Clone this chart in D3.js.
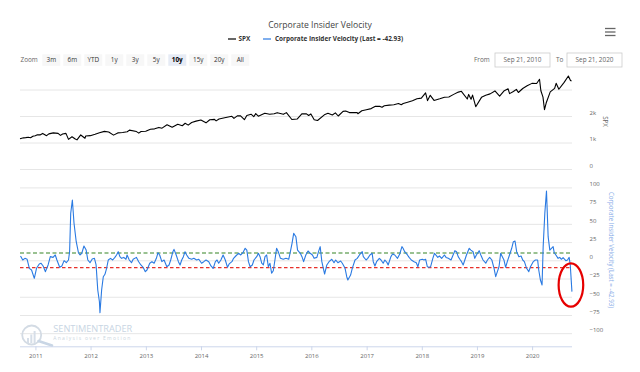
<!DOCTYPE html>
<html><head><meta charset="utf-8">
<script src="https://cdn.jsdelivr.net/npm/d3@7"></script>
<style>html,body{margin:0;padding:0;background:#fff;} svg{display:block;font-family:"Open Sans",sans-serif;}</style>
</head><body><svg id="c" width="640" height="372"></svg>
<script>
const chartTitle = "Corporate Insider Velocity";
const legendLabels = ["SPX", "Corporate Insider Velocity (Last = -42.93)"];
const zoomButtons = ["3m","6m","YTD","1y","3y","5y","10y","15y","20y","All"];
const selectedZoom = "10y";
const rangeFrom = "Sep 21, 2010", rangeTo = "Sep 21, 2020";
const xDomain = ["2010-09-21", "2020-09-21"];
const xTickYears = [2011,2012,2013,2014,2015,2016,2017,2018,2019,2020];
const spxTicks = [0, 1000, 2000, 3000];
const spxTickLabels = ["0", "1k", "2k", ""];
const velTicks = [100, 75, 50, 25, 0, -25, -50, -75, -100];
const upperBand = 10, lowerBand = -10;
const spxTitle = "SPX";
const velTitle = "Corporate Insider Velocity (Last = -42.93)";

const spxDates = ["2010-09-21","2010-10-15","2010-10-29","2010-11-15","2010-11-30","2010-12-15","2010-12-31",
"2011-01-14","2011-01-31","2011-02-18","2011-03-16","2011-03-31","2011-04-29","2011-05-31","2011-06-16","2011-06-30",
"2011-07-22","2011-08-08","2011-08-31","2011-09-22","2011-10-03","2011-10-28","2011-11-25","2011-11-30","2011-12-30",
"2012-01-31","2012-02-29","2012-04-02","2012-04-30","2012-06-01","2012-06-29","2012-07-31","2012-08-31","2012-09-14",
"2012-10-31","2012-11-15","2012-11-30","2012-12-31","2013-01-31","2013-02-28","2013-03-28","2013-04-18","2013-05-21",
"2013-06-24","2013-07-31","2013-08-30","2013-09-18","2013-10-08","2013-10-31","2013-11-29","2013-12-31","2014-02-03",
"2014-02-28","2014-03-31","2014-04-11","2014-04-30","2014-05-30","2014-06-30","2014-07-24","2014-08-07","2014-08-29",
"2014-09-18","2014-10-15","2014-10-31","2014-11-28","2014-12-16","2014-12-29","2015-01-15","2015-02-27","2015-03-31",
"2015-04-30","2015-05-20","2015-06-30","2015-07-20","2015-08-25","2015-09-29","2015-10-30","2015-11-30","2015-12-14",
"2015-12-29","2016-01-20","2016-02-11","2016-03-31","2016-04-20","2016-05-19","2016-06-08","2016-06-27","2016-07-29",
"2016-08-15","2016-09-09","2016-10-31","2016-11-04","2016-11-30","2016-12-30","2017-01-31","2017-02-28","2017-03-31",
"2017-04-13","2017-04-28","2017-05-31","2017-06-30","2017-07-31","2017-08-18","2017-08-31","2017-09-29","2017-10-31",
"2017-11-30","2017-12-29","2018-01-26","2018-02-08","2018-02-26","2018-03-23","2018-04-30","2018-05-31","2018-06-29",
"2018-07-31","2018-08-31","2018-09-20","2018-10-29","2018-11-07","2018-11-23","2018-12-03","2018-12-24","2019-01-31",
"2019-02-28","2019-03-29","2019-04-30","2019-05-31","2019-06-28","2019-07-26","2019-08-05","2019-08-30","2019-09-19",
"2019-10-02","2019-10-31","2019-11-29","2019-12-31","2020-01-31","2020-02-19","2020-02-28","2020-03-13","2020-03-23",
"2020-04-03","2020-04-30","2020-05-29","2020-06-08","2020-06-26","2020-07-31","2020-08-28","2020-09-04","2020-09-11","2020-09-18"];
const spxValues = [1140,1176,1183,1198,1180,1235,1258,
1293,1286,1343,1257,1326,1364,1345,1268,1321,
1345,1119,1219,1130,1099,1285,1159,1247,1258,
1312,1366,1419,1398,1278,1362,1379,1407,1466,
1412,1353,1416,1426,1498,1515,1569,1541,1669,
1573,1686,1633,1725,1656,1757,1806,1848,1742,
1859,1872,1815,1884,1924,1960,1988,1910,2003,
2011,1862,2018,2068,1973,2091,1992,2105,2068,
2086,2126,2063,2128,1867,1884,2079,2080,2021,
2078,1859,1829,2060,2102,2040,2119,2000,2174,
2190,2128,2126,2085,2199,2239,2279,2364,2363,
2329,2384,2412,2423,2470,2426,2472,2519,2575,
2648,2674,2873,2581,2780,2588,2648,2705,2718,
2816,2902,2931,2641,2814,2633,2790,2351,2704,
2784,2834,2946,2752,2942,3026,2844,2926,3006,
2888,3038,3141,3231,3226,3386,2954,2711,2237,
2489,2912,3044,3232,3009,3271,3508,3427,3341,3319];

const velYears = [2010.73,2010.77,2010.81,2010.85,2010.89,2010.93,2010.98,2011.02,2011.07,2011.10,2011.14,2011.18,2011.23,2011.27,2011.32,2011.36,2011.39,
2011.44,2011.48,2011.52,2011.56,2011.60,2011.62,2011.64,2011.67,2011.70,2011.74,2011.78,2011.81,2011.84,2011.88,2011.92,2011.95,2011.99,
2012.03,2012.07,2012.10,2012.13,2012.16,2012.17,2012.20,2012.23,2012.26,2012.29,2012.32,2012.36,2012.40,2012.44,2012.47,2012.50,2012.53,2012.56,2012.60,2012.64,2012.66,2012.70,2012.74,2012.77,
2012.83,2012.87,2012.91,2012.95,2012.99,2013.02,2013.07,2013.11,2013.15,2013.19,2013.22,2013.25,2013.29,2013.33,2013.38,2013.42,2013.45,2013.49,2013.51,2013.55,2013.59,2013.62,2013.65,2013.68,2013.71,2013.74,2013.78,2013.83,2013.87,2013.92,2013.96,2014.01,2014.05,2014.09,
2014.14,2014.18,2014.22,2014.26,2014.29,2014.32,2014.36,2014.40,2014.44,2014.48,2014.51,2014.56,2014.59,2014.63,2014.68,2014.72,2014.76,2014.80,2014.83,2014.86,2014.89,2014.93,2014.96,2015.01,2015.04,2015.07,2015.10,2015.13,2015.16,2015.19,2015.22,2015.25,2015.28,2015.31,2015.34,2015.37,2015.40,2015.44,2015.49,
2015.54,2015.59,2015.62,2015.65,2015.68,2015.72,2015.75,2015.80,2015.83,2015.86,2015.90,2015.94,2015.98,2016.02,2016.05,2016.10,2016.13,2016.16,2016.19,2016.21,2016.24,2016.28,2016.32,2016.37,2016.41,2016.44,2016.48,2016.53,2016.56,2016.61,2016.64,2016.66,2016.71,2016.74,2016.79,
2016.83,2016.87,2016.92,2016.94,2016.99,2017.02,2017.06,2017.10,2017.12,2017.15,2017.18,2017.23,2017.26,2017.30,2017.33,2017.37,2017.39,2017.44,2017.47,2017.51,2017.56,2017.60,2017.64,2017.66,2017.69,2017.74,2017.77,2017.81,2017.86,2017.90,2017.93,2017.96,2018.01,2018.04,2018.07,2018.10,2018.13,2018.16,2018.20,2018.23,
2018.29,2018.32,2018.36,2018.41,2018.44,2018.48,2018.53,2018.56,2018.60,2018.63,2018.66,2018.69,2018.72,2018.75,2018.78,2018.81,2018.86,2018.89,2018.93,2018.96,2018.99,2019.04,2019.07,2019.11,2019.16,2019.19,2019.23,2019.27,2019.31,2019.34,2019.37,2019.40,2019.43,2019.46,2019.49,2019.52,2019.55,
2019.59,2019.63,2019.66,2019.69,2019.72,2019.76,2019.80,2019.83,2019.86,2019.90,2019.94,2019.97,2020.02,2020.06,2020.10,2020.12,2020.15,2020.18,2020.20,2020.23,2020.26,2020.29,2020.32,2020.35,2020.38,2020.40,2020.43,2020.47,2020.50,2020.53,2020.56,2020.61,2020.64,2020.67,2020.69,2020.72];
const velValues = [5.9,0.4,2.7,1.4,-11,-13.3,-24.7,-11,-5,-4,-7.8,-15.6,-6.4,5,4,7.3,0.4,
-9.6,-7.8,-0.5,-3.3,0.4,11.8,64.5,82.7,50.8,25.5,10.4,7.3,9.6,19.6,14,0.4,-3.3,
1.8,2.7,-6.4,-40.8,-56.8,-72,-40.8,-22.5,-19.2,-11,0.4,2.7,0.4,4,7.3,11.8,5,2.7,4,1.4,7.3,0.4,-3.3,1.4,
4,-1.9,-6.4,-9.6,-15.6,-13.3,-4,-1.9,-4,2.7,10.4,7.3,-1.9,0.4,-8.8,-6.4,0.4,11.8,15,7.3,-1.9,-6.4,0.4,5,11.8,7.3,2.7,1.4,2.7,0.4,1.4,-4,-1.9,0.4,
-1.9,-7.8,-11,-1.9,0.4,-4,0.4,7.3,0.4,-9.6,-5,-1.9,2.7,5.9,9.6,7.3,10.4,16.5,14,-1.9,-8.8,-6.4,0.4,5,9.6,5,-4,-6.4,5,7.3,-8.8,-4,-17.8,-14.3,0.4,16.5,11.8,2.7,1.4,
2.7,1.4,11.8,23.3,37,32.4,14,9.6,5,-1.9,7.3,12.8,9.6,7.3,2.7,4,11.8,18.7,-1.9,-8.8,-18.8,-6.4,-1.9,1.4,-3.3,0.4,-3.3,-1,-4,-11,-22.5,-27,-20.2,-11,0.4,
2.7,7.3,11.8,5,0.4,2.7,7.3,9.6,-1.9,-7.8,-1.9,2.7,0.4,-4,0.4,-3.3,-6.4,5,8.6,7.3,2.7,8.6,18.7,16.5,11.8,7.3,4,0.4,-1.9,-3.3,-8.8,0.4,1.4,0.4,1.4,-8.8,-9.6,-8.8,2.7,9.6,
4,5.9,2.7,7.3,4,2.7,0.4,5.9,13.2,11.8,5,1.4,-1.9,-6.4,0.4,7.3,16.5,14,11.8,2.7,7.3,13.2,7.3,0.4,-4,0.4,4,0.4,-11,-22.5,-15.6,-8.8,9.6,5,0.4,-9.6,-1.9,
7.3,16.5,25.5,26.5,11.8,5,5.9,0.4,-1.9,-11,-15.6,-8.8,-1.9,0.4,0.4,-13.3,-27,-33.9,18.7,64.5,95,32.4,14,16.5,18.7,10.4,7.3,2.7,4,1.4,3.6,-0.5,0.4,4,-6.4,-42.93];

const W = 640, H = 372;
const svg = d3.select("#c");
const parse = d3.utcParse("%Y-%m-%d");
function yearToDate(y){const yr=Math.floor(y);const s=Date.UTC(yr,0,1),e=Date.UTC(yr+1,0,1);return new Date(s+(y-yr)*(e-s));}

const plotL = 20, plotR = 572;
const x = d3.scaleUtc().domain(xDomain.map(parse)).range([plotL, plotR]);
const ySpx = d3.scaleLinear().domain([0, 3000]).range([169, 89.5]);
const yVel = d3.scaleLinear().domain([-100, 100]).range([333.2, 187.4]);

// Title
svg.append("text").attr("x", 320).attr("y", 27.5).attr("text-anchor","middle")
  .attr("font-size", 8.6).attr("fill","#444").text(chartTitle);

// Hamburger
[28.5,32,35.5].forEach(yy=>svg.append("line").attr("x1",605).attr("x2",615.5).attr("y1",yy).attr("y2",yy)
  .attr("stroke","#666").attr("stroke-width",1.3));

// Legend
const leg = svg.append("g").attr("font-size",6.4).attr("font-weight","bold").attr("fill","#333");
leg.append("line").attr("x1",228).attr("x2",236).attr("y1",39).attr("y2",39).attr("stroke","#000").attr("stroke-width",1.2);
leg.append("text").attr("x",238.5).attr("y",41.2).text(legendLabels[0]);
leg.append("line").attr("x1",263).attr("x2",271).attr("y1",39).attr("y2",39).attr("stroke","#2a7ae2").attr("stroke-width",1.2);
leg.append("text").attr("x",275).attr("y",41.2).text(legendLabels[1]);

// Range selector
const rs = svg.append("g").attr("font-size",6.4);
rs.append("text").attr("x",20.5).attr("y",62.2).attr("fill","#666").text("Zoom");
const btn = rs.selectAll("g.b").data(zoomButtons).join("g").attr("class","b")
  .attr("transform",(d,i)=>`translate(${42.3+i*21},54.3)`);
btn.append("rect").attr("width",18).attr("height",11.5).attr("fill",d=>d===selectedZoom?"#e6ebf5":"#f7f7f7");
btn.append("text").attr("x",9).attr("y",7.9).attr("text-anchor","middle")
  .attr("fill",d=>d===selectedZoom?"#000":"#333").attr("font-weight",d=>d===selectedZoom?"bold":"normal").text(d=>d);
rs.append("text").attr("x",474).attr("y",62.2).attr("fill","#666").text("From");
rs.append("rect").attr("x",495).attr("y",53).attr("width",55).attr("height",14).attr("fill","#fff").attr("stroke","#ccc").attr("stroke-width",0.8);
rs.append("text").attr("x",522.5).attr("y",62.2).attr("text-anchor","middle").attr("fill","#666").text(rangeFrom);
rs.append("text").attr("x",556).attr("y",62.2).attr("fill","#666").text("To");
rs.append("rect").attr("x",567).attr("y",53).attr("width",55).attr("height",14).attr("fill","#fff").attr("stroke","#ccc").attr("stroke-width",0.8);
rs.append("text").attr("x",594.5).attr("y",62.2).attr("text-anchor","middle").attr("fill","#666").text(rangeTo);

// Gridlines
svg.append("g").selectAll("line").data(spxTicks).join("line")
  .attr("x1",plotL).attr("x2",plotR).attr("y1",d=>ySpx(d)+0.5).attr("y2",d=>ySpx(d)+0.5)
  .attr("stroke","#e6e6e6").attr("stroke-width",1);
svg.append("g").selectAll("line").data(velTicks).join("line")
  .attr("x1",plotL).attr("x2",plotR).attr("y1",d=>yVel(d)+0.5).attr("y2",d=>yVel(d)+0.5)
  .attr("stroke","#e6e6e6").attr("stroke-width",1);

// Watermark
const wm = svg.append("g");
wm.append("circle").attr("cx",31.7).attr("cy",335).attr("r",9.5).attr("fill","none").attr("stroke","#d3dbe4").attr("stroke-width",1.8);
[[27,338,2,5],[30.3,334.5,2,8.5],[33.6,331,2,12]].forEach(b=>wm.append("rect").attr("x",b[0]).attr("y",b[1]).attr("width",b[2]).attr("height",b[3]).attr("fill","#d6dee8"));
wm.append("line").attr("x1",38.5).attr("y1",341).attr("x2",52).attr("y2",345.5).attr("stroke","#c9d6e5").attr("stroke-width",2.6).attr("stroke-linecap","round");
wm.append("text").attr("x",53.3).attr("y",332.4).attr("font-size",8.6).attr("fill","#c8d5e3").attr("textLength",79).attr("lengthAdjust","spacingAndGlyphs").text("SENTIMENTRADER");
wm.append("text").attr("x",53.3).attr("y",339.6).attr("font-size",5).attr("fill","#ccd6e0").attr("textLength",77).attr("lengthAdjust","spacing").text("Analysis over Emotion");

// Bands
svg.append("line").attr("x1",plotL).attr("x2",plotR).attr("y1",yVel(upperBand)).attr("y2",yVel(upperBand))
  .attr("stroke","#78ad6e").attr("stroke-width",1.6).attr("stroke-dasharray","4,2.5");
svg.append("line").attr("x1",plotL).attr("x2",plotR).attr("y1",yVel(lowerBand)).attr("y2",yVel(lowerBand))
  .attr("stroke","#e8302a").attr("stroke-width",1.2).attr("stroke-dasharray","3.5,2.5");

// SPX line
const spxData = spxDates.map((d,i)=>({d:parse(d),v:spxValues[i]}));
svg.append("path").datum(spxData).attr("fill","none").attr("stroke","#000").attr("stroke-width",1.1)
  .attr("stroke-linejoin","round")
  .attr("d",d3.line().x(p=>x(p.d)).y(p=>ySpx(p.v)));

// Velocity line
const velData = velYears.map((y,i)=>({d:yearToDate(y),v:velValues[i]}));
svg.append("path").datum(velData).attr("fill","none").attr("stroke","#2a7ae2").attr("stroke-width",1.1)
  .attr("stroke-linejoin","round")
  .attr("d",d3.line().x(p=>x(p.d)).y(p=>yVel(p.v)));

// X axis
const xAxis = d3.axisBottom(x).tickValues(xTickYears.map(y=>new Date(Date.UTC(y,0,1)))).tickFormat(d3.utcFormat("%Y")).tickSize(4).tickPadding(3);
const gx = svg.append("g").attr("transform","translate(0,346.3)").call(xAxis);
gx.select(".domain").attr("stroke","#ccd6eb").attr("d",`M${plotL},0.5H${plotR}`);
gx.selectAll(".tick line").attr("stroke","#ccd6eb");
gx.selectAll("text").attr("font-size",6).attr("fill","#666").attr("font-family","Open Sans, sans-serif");

// Y axes labels
const ySpxAxis = d3.axisRight(ySpx).tickValues(spxTicks).tickFormat((d,i)=>spxTickLabels[i]).tickSize(0).tickPadding(0);
const gy1 = svg.append("g").attr("transform","translate(589.5,-3.6)").call(ySpxAxis);
gy1.select(".domain").remove();
gy1.selectAll("text").attr("font-size",6).attr("fill","#666").attr("font-family","Open Sans, sans-serif");
const yVelAxis = d3.axisRight(yVel).tickValues(velTicks).tickSize(0).tickPadding(0);
const gy2 = svg.append("g").attr("transform","translate(589.5,-3.6)").call(yVelAxis);
gy2.select(".domain").remove();
gy2.selectAll("text").attr("font-size",6).attr("fill","#666").attr("font-family","Open Sans, sans-serif");

// Axis titles
svg.append("text").attr("transform",`translate(603,${(ySpx(0)+74)/2}) rotate(90)`).attr("text-anchor","middle")
  .attr("font-size",6.2).attr("fill","#666").text(spxTitle);
svg.append("text").attr("transform",`translate(608.5,250) rotate(90)`).attr("text-anchor","middle")
  .attr("font-size",6.2).attr("fill","#8aaee8").text(velTitle);

// Annotation ellipse around the last reading
const last = velData[velData.length-1];
svg.append("ellipse").attr("cx",x(last.d)-1).attr("cy",yVel(last.v)-6.6).attr("rx",12.3).attr("ry",21.7)
  .attr("fill","none").attr("stroke","#e60000").attr("stroke-width",2.2);
</script></body></html>
